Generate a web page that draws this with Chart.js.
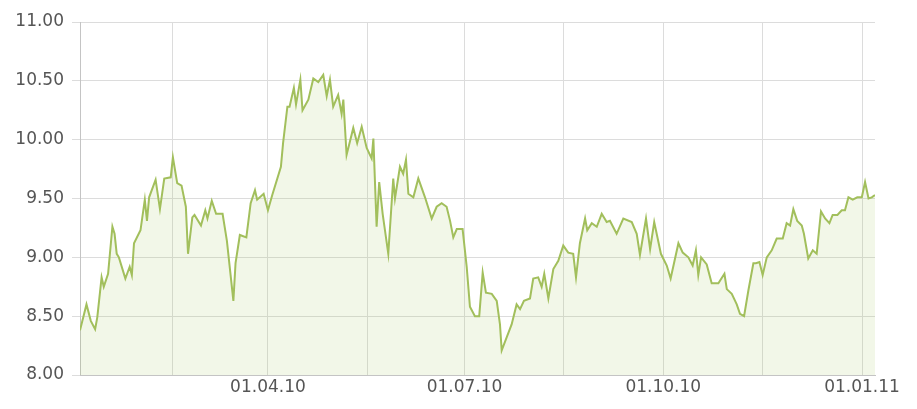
<!DOCTYPE html>
<html>
<head>
<meta charset="utf-8">
<script src="https://cdn.jsdelivr.net/npm/chart.js@4/dist/chart.umd.min.js"></script>
<style>
  html, body { margin: 0; padding: 0; background: #ffffff; }
  #wrap { width: 917px; height: 409px; }
</style>
</head>
<body>
<div id="wrap"><canvas id="courbe"></canvas></div>
<script>
// days counted from 01.01.10
const days = [
  3, 6, 8, 10, 11, 13, 14, 16, 18, 19, 20, 21, 24, 26, 27, 28, 31, 33, 34, 35,
  38, 40, 42, 45, 46, 48, 50, 52, 53, 55, 56, 59, 61, 62, 64, 66, 69, 71, 74, 75,
  77, 80, 82, 84, 85, 88, 90, 92, 96, 97, 99, 100, 102, 103, 105, 106, 108.7, 111, 113.3, 115.6,
  117.2, 118.7, 120.2, 122.5, 124.1, 124.9, 126.4, 129.5, 131.3, 133.4, 135.7, 138, 138.8, 140.3, 141.5, 143.1, 145.7, 148, 148.8, 151.1,
  152.6, 153.9, 155, 157.3, 159.6, 162.7, 165.8, 168.1, 170.4, 172.7, 174.3, 175.8, 177.4, 180.1, 182, 183.5, 185.8, 187.8, 189.4, 190.9,
  193.6, 195.9, 197.4, 198.2, 200.5, 202.8, 205.1, 206.7, 208.5, 211.3, 212.8, 215.1, 216.7, 217.9, 219.8, 222.1, 224.4, 226.7, 229, 231.3,
  232.6, 234.4, 236.8, 237.8, 239.9, 242.2, 244.5, 246.8, 248.3, 251.4, 254.5, 258.4, 260.7, 262.2, 265, 266.9, 268.8, 271.9, 274.6, 276.4,
  280, 282, 284.6, 286.6, 288.1, 289.2, 290.5, 293.1, 295.4, 298.5, 301.3, 302.4, 304.7, 307, 308.5, 310.4, 312.4, 314.7, 315.9, 317.5,
  319, 320.9, 323.2, 325.5, 328.3, 330.1, 331.7, 333.2, 335, 337.1, 338.1, 340.1, 342.2, 344, 346, 347.9, 349.9, 351.4, 353.6, 355.6,
  357.1, 358.7, 360.7, 362.8, 364.9, 366.4, 368, 369.5, 371
]
const cours = [
  8.38, 8.60, 8.46, 8.39, 8.49, 8.83, 8.75, 8.86, 9.26, 9.20, 9.03, 9.00, 8.82, 8.92, 8.85, 9.12, 9.23, 9.49, 9.31, 9.51,
  9.66, 9.41, 9.67, 9.68, 9.85, 9.63, 9.61, 9.43, 9.03, 9.34, 9.36, 9.27, 9.40, 9.33, 9.48, 9.37, 9.37, 9.14, 8.63, 8.95,
  9.19, 9.17, 9.46, 9.57, 9.49, 9.54, 9.40, 9.53, 9.77, 9.97, 10.28, 10.28, 10.44, 10.30, 10.51, 10.25, 10.34, 10.52, 10.49, 10.55,
  10.37, 10.51, 10.28, 10.38, 10.22, 10.34, 9.87, 10.10, 9.97, 10.11, 9.93, 9.84, 10.01, 9.26, 9.64, 9.37, 9.03, 9.67, 9.50, 9.77,
  9.71, 9.83, 9.54, 9.51, 9.67, 9.51, 9.33, 9.43, 9.46, 9.43, 9.31, 9.17, 9.24, 9.24, 8.92, 8.58, 8.50, 8.50, 8.87, 8.70,
  8.69, 8.63, 8.43, 8.21, 8.32, 8.43, 8.60, 8.56, 8.63, 8.65, 8.82, 8.83, 8.75, 8.86, 8.65, 8.90, 8.97, 9.10, 9.04, 9.03,
  8.83, 9.12, 9.33, 9.23, 9.29, 9.26, 9.37, 9.30, 9.31, 9.20, 9.33, 9.30, 9.20, 9.02, 9.33, 9.07, 9.30, 9.03, 8.93, 8.82,
  9.12, 9.04, 9.00, 8.93, 9.06, 8.85, 9.00, 8.94, 8.78, 8.78, 8.86, 8.73, 8.69, 8.60, 8.52, 8.50, 8.72, 8.95, 8.95, 8.96,
  8.85, 9.00, 9.06, 9.16, 9.16, 9.29, 9.27, 9.41, 9.31, 9.27, 9.20, 8.99, 9.06, 9.03, 9.39, 9.33, 9.29, 9.36, 9.36, 9.40,
  9.40, 9.51, 9.49, 9.51, 9.51, 9.64, 9.50, 9.51, 9.53
]

const gridDays   = [46, 90, 136, 181, 227, 273, 319, 365]
const tickLabels = ["", "01.04.10", "", "01.07.10", "", "01.10.10", "", "01.01.11"]

let points = days.map((d, i) => ({ x: d, y: cours[i] }))

let police = { family: "'DejaVu Sans', sans-serif", size: 17 }

new Chart(document.getElementById("courbe"), {
    type: "line",
    data: {
        datasets: [{
            data: points,
            borderColor: "#a2bf5c",
            borderWidth: 2,
            backgroundColor: "rgba(160, 195, 90, 0.14)",
            fill: "start",
            pointRadius: 0,
            tension: 0
        }]
    },
    options: {
        responsive: true,
        maintainAspectRatio: false,
        animation: false,
        layout: { padding: { top: 22, right: 42, left: 0, bottom: 0 } },
        plugins: {
            legend: { display: false },
            tooltip: { enabled: false }
        },
        scales: {
            x: {
                type: "linear",
                min: 3,
                max: 371,
                afterBuildTicks: scale => {
                    scale.ticks = gridDays.map(v => ({ value: v }))
                },
                afterFit: scale => { scale.height = 34 },
                grid: { color: "#dcdcdc", drawTicks: false },
                border: { color: "#c4c4c4" },
                ticks: {
                    autoSkip: false,
                    maxRotation: 0,
                    padding: 2,
                    color: "#555555",
                    font: police,
                    callback: (v, i) => tickLabels[i]
                }
            },
            y: {
                min: 8,
                max: 11,
                afterFit: scale => { scale.width = 80 },
                grid: { color: "#dcdcdc", tickLength: 8 },
                border: { color: "#c4c4c4" },
                ticks: {
                    stepSize: 0.5,
                    padding: 8,
                    color: "#555555",
                    font: police,
                    callback: v => v.toFixed(2)
                }
            }
        }
    }
})
</script>
</body>
</html>
